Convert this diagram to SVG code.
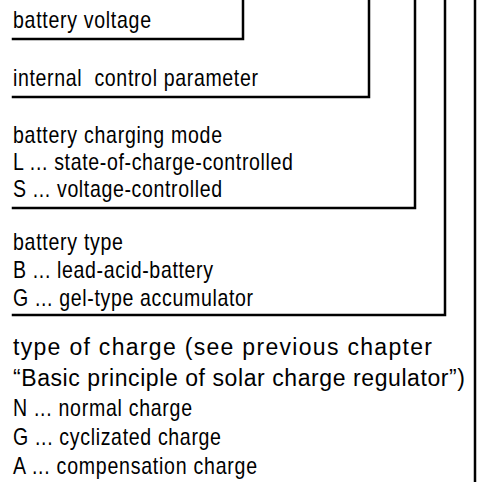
<svg xmlns="http://www.w3.org/2000/svg" width="477" height="482" viewBox="0 0 477 482">
<style>
text{font-family:"Liberation Sans",Arial,sans-serif;font-size:23px;fill:#000}
.ln{fill:none;stroke:#000;stroke-width:2.5;stroke-linejoin:miter;stroke-linecap:square}
</style>
<rect width="477" height="482" fill="#fff"/>
<g id="connectors">
<path class="ln" d="M13 39H243V0"/>
<path class="ln" d="M13 97H369V0"/>
<path class="ln" d="M13 208H415V0"/>
<path class="ln" d="M13 315H445V0"/>
<path class="ln" d="M475 0V482"/>
</g>
<g id="n-voltage"><text transform="translate(13,28) scale(0.85,1)" textLength="162.4" lengthAdjust="spacing">battery voltage</text></g>
<g id="n-internal"><text transform="translate(13,86) scale(0.85,1)" xml:space="preserve" textLength="288.2" lengthAdjust="spacing">internal  control parameter</text></g>
<g id="n-mode">
<text transform="translate(13,143) scale(0.85,1)" textLength="245.9" lengthAdjust="spacing">battery charging mode</text>
<text transform="translate(13,170) scale(0.85,1)" textLength="329.4" lengthAdjust="spacing">L ... state-of-charge-controlled</text>
<text transform="translate(13,197) scale(0.85,1)" textLength="245.9" lengthAdjust="spacing">S ... voltage-controlled</text>
</g>
<g id="n-type">
<text transform="translate(13,250) scale(0.85,1)" textLength="129.4" lengthAdjust="spacing">battery type</text>
<text transform="translate(13,278) scale(0.85,1)" textLength="235.3" lengthAdjust="spacing">B ... lead-acid-battery</text>
<text transform="translate(13,306) scale(0.85,1)" textLength="282.4" lengthAdjust="spacing">G ... gel-type accumulator</text>
</g>
<g id="n-charge">
<text x="13" y="355" textLength="419" lengthAdjust="spacing">type of charge (see previous chapter</text>
<text x="13" y="386" textLength="452" lengthAdjust="spacing">“Basic principle of solar charge regulator”)</text>
<text transform="translate(13,416) scale(0.85,1)" textLength="210.6" lengthAdjust="spacing">N ... normal charge</text>
<text transform="translate(13,445) scale(0.85,1)" textLength="244.7" lengthAdjust="spacing">G ... cyclizated charge</text>
<text transform="translate(13,474) scale(0.85,1)" textLength="287.1" lengthAdjust="spacing">A ... compensation charge</text>
</g>
</svg>
